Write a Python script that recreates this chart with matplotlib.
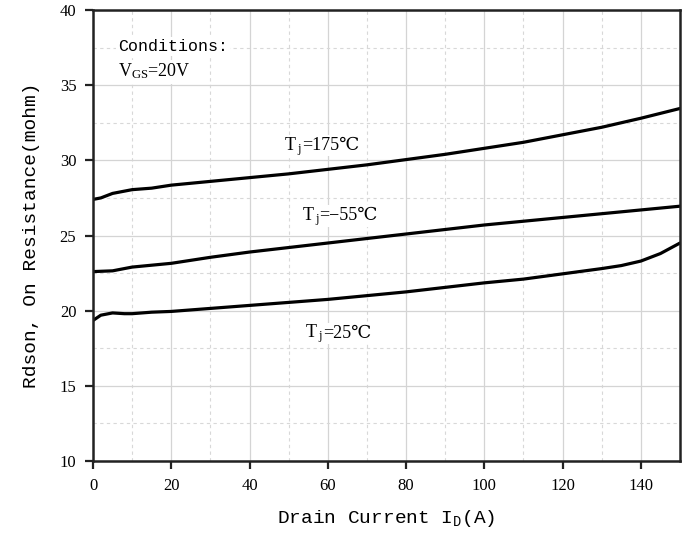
import numpy as np
import matplotlib.pyplot as plt

plt.rcParams['font.family'] = ['Liberation Serif', 'DejaVu Serif', 'DejaVu Sans']

# drain current points (A) and on-resistance (mohm)
x_175 = [0, 2, 5, 10, 15, 20, 30, 40, 50, 60, 70, 80, 90, 100, 110, 120, 130, 140, 150]
r_175 = [27.4, 27.5, 27.8, 28.05, 28.15, 28.35, 28.6, 28.85, 29.1, 29.4, 29.7, 30.05, 30.4, 30.8, 31.2, 31.7, 32.2, 32.8, 33.45]

x_m55 = [0, 5, 10, 20, 30, 40, 50, 60, 70, 80, 90, 100, 110, 120, 130, 140, 150]
r_m55 = [22.6, 22.65, 22.9, 23.15, 23.55, 23.9, 24.2, 24.5, 24.8, 25.1, 25.4, 25.7, 25.95, 26.2, 26.45, 26.7, 26.95]

x_25 = [0, 2, 5, 8, 10, 15, 20, 30, 40, 50, 60, 70, 80, 90, 100, 110, 120, 130, 135, 140, 145, 150]
r_25 = [19.35, 19.7, 19.85, 19.8, 19.8, 19.9, 19.95, 20.15, 20.35, 20.55, 20.75, 21.0, 21.25, 21.55, 21.85, 22.1, 22.45, 22.8, 23.0, 23.3, 23.8, 24.5]

temp_labels = ['=175℃', '=−55℃', '=25℃']
label_pos = [(53.4, 30.67), (57.8, 26.0), (58.8, 18.2)]

mono = 'Liberation Mono'

fig = plt.figure(figsize=(6.9, 5.35), dpi=100)
ax = fig.add_axes([0.1348, 0.1383, 0.8507, 0.843])

ax.set_xlim(0, 150)
ax.set_ylim(10, 40)
ax.set_xticks(np.arange(0, 150, 20))
ax.set_yticks(np.arange(10, 41, 5))
ax.set_xticks(np.arange(10, 150, 20), minor=True)
ax.set_yticks(np.arange(12.5, 40, 5), minor=True)
ax.grid(True, which='major', color='#d4d4d4', lw=0.9)
ax.grid(True, which='minor', color='#d8d8d8', lw=0.8, ls=(0, (3, 3)))
ax.tick_params(which='minor', length=0)
ax.tick_params(which='major', direction='out', length=6, width=1.6, labelsize=12,
               color='#222222', pad=6)
for s in ax.spines.values():
    s.set_linewidth(1.8)
    s.set_color('#222222')

ax.plot(x_175, r_175, color='black', lw=2.3, solid_capstyle='round')
ax.plot(x_m55, r_m55, color='black', lw=2.3, solid_capstyle='round')
ax.plot(x_25, r_25, color='black', lw=2.3, solid_capstyle='round')

box = dict(facecolor='white', edgecolor='none', pad=1.5)
ax.text(6.3, 37.6, 'Conditions:', fontsize=12, family=mono, va='center', bbox=box)
ax.text(6.3, 35.9, r'$\mathregular{V_{GS}}$=20V', fontsize=13, va='center', bbox=box)
for lab, (lx, ly) in zip(temp_labels, label_pos):
    ax.text(lx, ly, lab, fontsize=13, ha='left', va='baseline', bbox=box, zorder=3)
    ax.text(lx, ly, r'$\mathregular{T_{\,j}}$', fontsize=13, ha='right', va='baseline',
            bbox=dict(facecolor='white', edgecolor='none', pad=0.3), zorder=4)

ax.set_xlabel(r'Drain Current $\mathregular{I_D}$(A)', fontsize=14, family=mono, labelpad=10)
ax.set_ylabel('Rdson, On Resistance(mohm)', fontsize=14, family=mono, labelpad=14)

fig.savefig('out.png', dpi=100)
